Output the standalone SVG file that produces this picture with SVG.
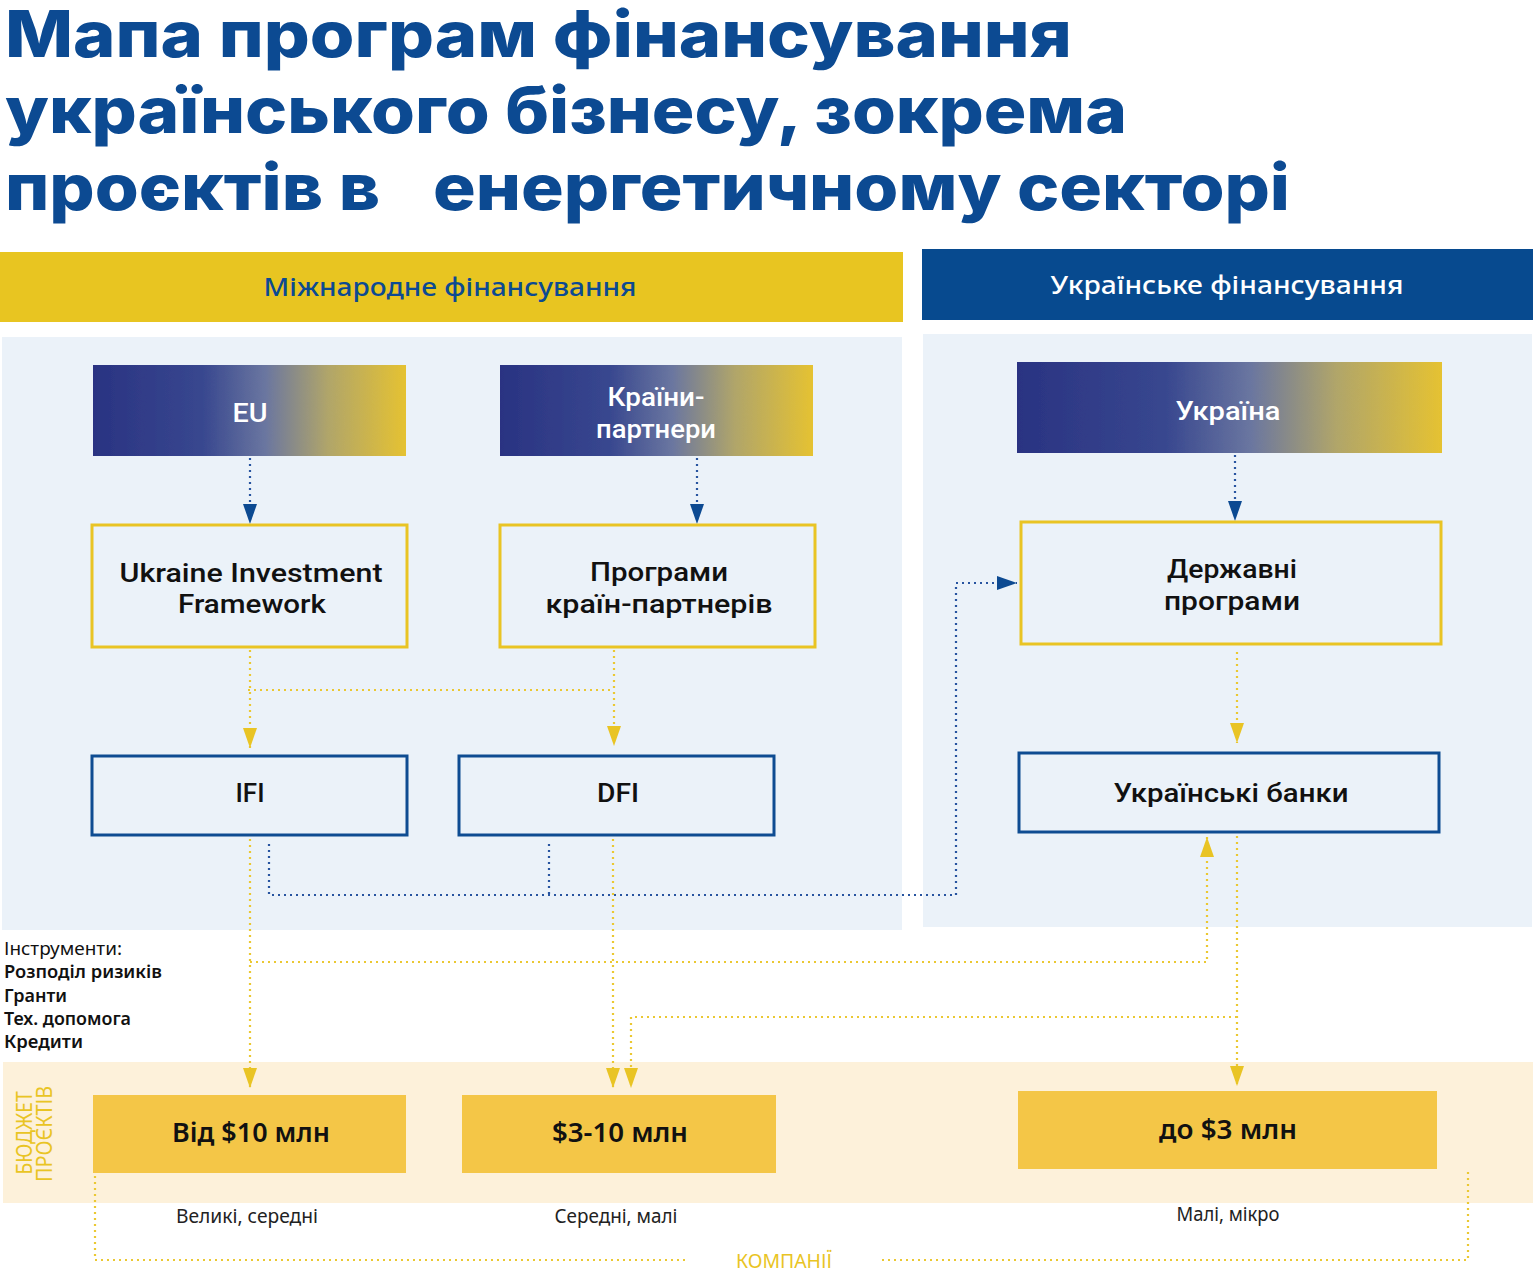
<svg xmlns="http://www.w3.org/2000/svg" width="1536" height="1273" viewBox="0 0 1536 1273">
<style>
.title{font-family:Inter,"Noto Sans",sans-serif;font-weight:800;font-size:64px;fill:#0c4a92}
.hdr{font-family:"Noto Sans",sans-serif;font-weight:500;font-size:26px;text-anchor:middle}
.grad-t{font-family:Roboto,"Noto Sans",sans-serif;font-weight:500;font-size:26px;fill:#fff;text-anchor:middle}
.node-t{font-family:Roboto,"Noto Sans",sans-serif;font-weight:500;font-size:26px;fill:#111;text-anchor:middle}
.bud-t{font-family:"Noto Sans",sans-serif;font-weight:600;font-size:27px;fill:#111;text-anchor:middle}
.lbl{font-family:"Noto Sans",sans-serif;font-weight:400;font-size:19px;fill:#222;text-anchor:middle}
.instr{font-family:"Noto Sans",sans-serif;font-size:18px;fill:#111}
.ybox{fill:#ebf2f9;stroke:#e9c424;stroke-width:3}
.bbox{fill:#ebf2f9;stroke:#0e4c92;stroke-width:3}
.budget{fill:#f4c647}
.dl{fill:none;stroke-width:2.2;stroke-dasharray:2 4}
.blue{stroke:#2754a0}
.yel{stroke:#ebc832}
</style>
<defs>
<linearGradient id="g" x1="0" y1="0" x2="1" y2="0">
<stop offset="0" stop-color="#2a3382"/>
<stop offset="0.35" stop-color="#38478f"/>
<stop offset="0.55" stop-color="#6a76a0"/>
<stop offset="0.75" stop-color="#b0a56a"/>
<stop offset="1" stop-color="#e5c232"/>
</linearGradient>
<filter id="grain" x="0" y="0" width="1" height="1">
<feTurbulence type="fractalNoise" baseFrequency="0.9" numOctaves="2" seed="3" result="n"/>
<feColorMatrix in="n" type="matrix" values="0 0 0 0 0.5  0 0 0 0 0.5  0 0 0 0 0.5  0 0 0 0.6 0" result="g"/>
<feComposite in="g" in2="SourceGraphic" operator="in" result="gi"/>
<feBlend in="gi" in2="SourceGraphic" mode="overlay"/>
</filter>
<marker id="ab" viewBox="0 0 20 14" refX="20" refY="7" markerWidth="20" markerHeight="14" markerUnits="userSpaceOnUse" orient="auto">
<path d="M0,0 L20,7 L0,14 Z" fill="#0c4a92"/>
</marker>
<marker id="ay" viewBox="0 0 20 14" refX="20" refY="7" markerWidth="20" markerHeight="14" markerUnits="userSpaceOnUse" orient="auto">
<path d="M0,0 L20,7 L0,14 Z" fill="#e9c424"/>
</marker>
</defs>
<rect width="1536" height="1273" fill="#fff"/>

<g id="title">
<text class="title" x="5" y="57" textLength="1067" lengthAdjust="spacingAndGlyphs">Мапа програм фінансування</text>
<text class="title" x="5" y="133" textLength="1122" lengthAdjust="spacingAndGlyphs">українського бізнесу, зокрема</text>
<text class="title" x="5" y="210" textLength="375" lengthAdjust="spacingAndGlyphs">проєктів в</text>
<text class="title" x="433" y="210" textLength="857" lengthAdjust="spacingAndGlyphs">енергетичному секторі</text>
</g>

<g id="header-intl">
<rect x="0" y="252" width="903" height="70" fill="#e8c521"/>
<text class="hdr" x="450" y="296" fill="#0c4a92" textLength="373" lengthAdjust="spacingAndGlyphs">Міжнародне фінансування</text>
</g>
<g id="header-ua">
<rect x="922" y="249" width="611" height="71" fill="#074a8f"/>
<text class="hdr" x="1227" y="294" fill="#fff" textLength="353" lengthAdjust="spacingAndGlyphs">Українське фінансування</text>
</g>

<rect x="2" y="337" width="900" height="593" fill="#ebf2f9"/>
<rect x="923" y="334" width="609" height="593" fill="#ebf2f9"/>
<rect x="3" y="1062" width="1530" height="141" fill="#fdf1da"/>

<g id="connectors">
<path class="dl blue" d="M250,458 V524" marker-end="url(#ab)"/>
<path class="dl blue" d="M697,458 V524" marker-end="url(#ab)"/>
<path class="dl blue" d="M1235,455 V521" marker-end="url(#ab)"/>
<path class="dl blue" d="M269,844 V895 H956 V583 H1017" marker-end="url(#ab)"/>
<path class="dl blue" d="M549,844 V895"/>
<path class="dl yel" d="M250,650 V748" marker-end="url(#ay)"/>
<path class="dl yel" d="M248,690 H614"/>
<path class="dl yel" d="M614,650 V746" marker-end="url(#ay)"/>
<path class="dl yel" d="M250,839 V1088" marker-end="url(#ay)"/>
<path class="dl yel" d="M250,962 H1207 V837" marker-end="url(#ay)"/>
<path class="dl yel" d="M1237,836 V1086" marker-end="url(#ay)"/>
<path class="dl yel" d="M1237,1017 H631 V1088" marker-end="url(#ay)"/>
<path class="dl yel" d="M613,839 V1088" marker-end="url(#ay)"/>
<path class="dl yel" d="M1237,652 V743" marker-end="url(#ay)"/>
<path class="dl yel" d="M95,1176 V1260 H686"/>
<path class="dl yel" d="M882,1260 H1468 V1172"/>
</g>

<g id="node-eu">
<rect x="93" y="365" width="313" height="91" fill="url(#g)" filter="url(#grain)"/>
<text class="grad-t" x="250" y="422" textLength="35" lengthAdjust="spacingAndGlyphs">EU</text>
</g>
<g id="node-partners">
<rect x="500" y="365" width="313" height="91" fill="url(#g)" filter="url(#grain)"/>
<text class="grad-t" x="656" y="406" textLength="97" lengthAdjust="spacingAndGlyphs">Країни-</text>
<text class="grad-t" x="656" y="438" textLength="120" lengthAdjust="spacingAndGlyphs">партнери</text>
</g>
<g id="node-ukraine">
<rect x="1017" y="362" width="425" height="91" fill="url(#g)" filter="url(#grain)"/>
<text class="grad-t" x="1228" y="420" textLength="105" lengthAdjust="spacingAndGlyphs">Україна</text>
</g>

<g id="node-uif">
<rect class="ybox" x="92" y="525" width="315" height="122"/>
<text class="node-t" x="251" y="582" textLength="263" lengthAdjust="spacingAndGlyphs">Ukraine Investment</text>
<text class="node-t" x="252" y="613" textLength="148" lengthAdjust="spacingAndGlyphs">Framework</text>
</g>
<g id="node-partner-programs">
<rect class="ybox" x="500" y="525" width="315" height="122"/>
<text class="node-t" x="659" y="581" textLength="138" lengthAdjust="spacingAndGlyphs">Програми</text>
<text class="node-t" x="659" y="613" textLength="227" lengthAdjust="spacingAndGlyphs">країн-партнерів</text>
</g>
<g id="node-state">
<rect class="ybox" x="1021" y="522" width="420" height="122"/>
<text class="node-t" x="1232" y="578" textLength="130" lengthAdjust="spacingAndGlyphs">Державні</text>
<text class="node-t" x="1232" y="610" textLength="136" lengthAdjust="spacingAndGlyphs">програми</text>
</g>

<g id="node-ifi">
<rect class="bbox" x="92" y="756" width="315" height="79"/>
<text class="node-t" x="250" y="802" textLength="29" lengthAdjust="spacingAndGlyphs">IFI</text>
</g>
<g id="node-dfi">
<rect class="bbox" x="459" y="756" width="315" height="79"/>
<text class="node-t" x="618" y="802" textLength="42" lengthAdjust="spacingAndGlyphs">DFI</text>
</g>
<g id="node-banks">
<rect class="bbox" x="1019" y="753" width="420" height="79"/>
<text class="node-t" x="1231" y="802" textLength="235" lengthAdjust="spacingAndGlyphs">Українські банки</text>
</g>

<g id="instruments">
<text class="instr" x="4" y="955" font-weight="400" textLength="118" lengthAdjust="spacingAndGlyphs">Інструменти:</text>
<text class="instr" x="4" y="978" font-weight="600" textLength="158" lengthAdjust="spacingAndGlyphs">Розподіл ризиків</text>
<text class="instr" x="4" y="1002" font-weight="600" textLength="63" lengthAdjust="spacingAndGlyphs">Гранти</text>
<text class="instr" x="4" y="1025" font-weight="600" textLength="127" lengthAdjust="spacingAndGlyphs">Тех. допомога</text>
<text class="instr" x="4" y="1048" font-weight="600" textLength="79" lengthAdjust="spacingAndGlyphs">Кредити</text>
</g>

<g id="budget-label" font-family="'Noto Sans',sans-serif" font-size="21" fill="#e9c424" text-anchor="middle">
<text transform="translate(32,1133) rotate(-90)" textLength="83" lengthAdjust="spacingAndGlyphs">БЮДЖЕТ</text>
<text transform="translate(52,1134) rotate(-90)" textLength="96" lengthAdjust="spacingAndGlyphs">ПРОЄКТІВ</text>
</g>

<g id="node-b10">
<rect class="budget" x="93" y="1095" width="313" height="78"/>
<text class="bud-t" x="251" y="1142" textLength="158" lengthAdjust="spacingAndGlyphs">Від $10 млн</text>
</g>
<g id="node-b3-10">
<rect class="budget" x="462" y="1095" width="314" height="78"/>
<text class="bud-t" x="620" y="1142" textLength="136" lengthAdjust="spacingAndGlyphs">$3-10 млн</text>
</g>
<g id="node-b3">
<rect class="budget" x="1018" y="1091" width="419" height="78"/>
<text class="bud-t" x="1228" y="1139" textLength="138" lengthAdjust="spacingAndGlyphs">до $3 млн</text>
</g>

<g id="labels">
<text class="lbl" x="247" y="1223" textLength="142" lengthAdjust="spacingAndGlyphs">Великі, середні</text>
<text class="lbl" x="616" y="1223" textLength="123" lengthAdjust="spacingAndGlyphs">Середні, малі</text>
<text class="lbl" x="1228" y="1221" textLength="103" lengthAdjust="spacingAndGlyphs">Малі, мікро</text>
<text x="784" y="1268" font-family="'Noto Sans',sans-serif" font-size="20" fill="#e9c424" text-anchor="middle" textLength="96" lengthAdjust="spacingAndGlyphs">КОМПАНІЇ</text>
</g>
</svg>
